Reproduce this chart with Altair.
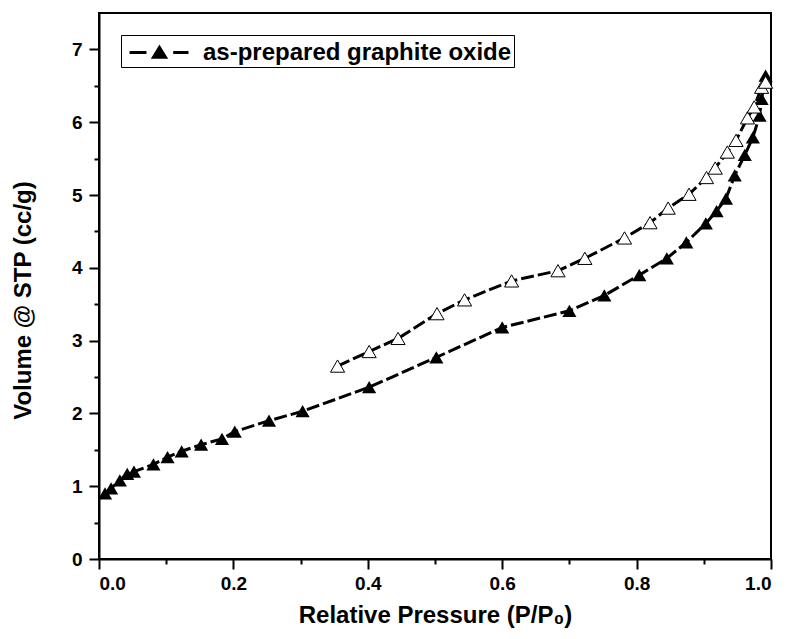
import altair as alt
import pandas as pd

# Adsorption branch (filled triangles)
ads_x = [0.009, 0.018, 0.031, 0.042, 0.052, 0.081, 0.102, 0.123, 0.152, 0.183,
         0.202, 0.253, 0.303, 0.402, 0.502, 0.600, 0.700, 0.752, 0.804, 0.845,
         0.874, 0.903, 0.919, 0.933, 0.946, 0.961, 0.973, 0.983, 0.986, 0.992]
ads_y = [0.90, 0.97, 1.08, 1.17, 1.20, 1.30, 1.40, 1.48, 1.57, 1.65,
         1.75, 1.90, 2.03, 2.36, 2.77, 3.18, 3.41, 3.62, 3.90, 4.13,
         4.35, 4.61, 4.78, 4.95, 5.27, 5.55, 5.79, 6.09, 6.32, 6.64]

# Desorption branch (open triangles)
des_x = [0.355, 0.402, 0.445, 0.503, 0.544, 0.614, 0.683, 0.723, 0.782, 0.820,
         0.847, 0.878, 0.904, 0.917, 0.935, 0.948, 0.965, 0.975, 0.986, 0.992]
des_y = [2.65, 2.85, 3.03, 3.37, 3.56, 3.82, 3.96, 4.13, 4.41, 4.62,
         4.82, 5.01, 5.24, 5.37, 5.59, 5.75, 6.06, 6.21, 6.48, 6.55]

series_label = "as-prepared graphite oxide"
x_major = [0.0, 0.2, 0.4, 0.6, 0.8, 1.0]
x_minor = [0.1, 0.3, 0.5, 0.7, 0.9]
y_major = [0, 1, 2, 3, 4, 5, 6, 7]
y_minor = [0.5, 1.5, 2.5, 3.5, 4.5, 5.5, 6.5]

ads = pd.DataFrame({"p": ads_x, "v": ads_y, "series": series_label})
des = pd.DataFrame({"p": des_x, "v": des_y})

FONT = "Liberation Sans"


def xs():
    return alt.Scale(domain=[0, 1.0], nice=False, zero=False)


def ys():
    return alt.Scale(domain=[0, 7.5], nice=False, zero=False)


x_axis = alt.Axis(values=x_major, format=".1f", orient="bottom", grid=False,
                  title="Relative Pressure (P/P\u2080)", tickSize=10, tickWidth=2,
                  domainWidth=2, domainColor="black", tickColor="black",
                  labelFontSize=19, labelFontWeight="bold", labelColor="black",
                  labelPadding=5, labelFont=FONT,
                  titleFontSize=24, titleFontWeight="bold", titleFont=FONT,
                  titleColor="black", titleY=63, titleBaseline="alphabetic")
y_axis = alt.Axis(values=y_major, format="d", orient="left", grid=False,
                  title="Volume @ STP (cc/g)", tickSize=10, tickWidth=2,
                  domainWidth=2, domainColor="black", tickColor="black",
                  labelFontSize=19, labelFontWeight="bold", labelColor="black",
                  labelPadding=7, labelFont=FONT,
                  titleFontSize=24, titleFontWeight="bold", titleFont=FONT,
                  titleColor="black", titleX=-76, titleY=287,
                  titleBaseline="middle", titleAngle=-90)

X = alt.X("p:Q", scale=xs(), axis=x_axis)
Y = alt.Y("v:Q", scale=ys(), axis=y_axis)

line_ads = alt.Chart(ads).mark_line(color="black", strokeWidth=3,
                                    strokeDash=[13, 4]).encode(X, Y, order="p:Q")
line_des = alt.Chart(des).mark_line(color="black", strokeWidth=3,
                                    strokeDash=[13, 4]).encode(X, Y, order="p:Q")

legend_path = "M-0.64,0L0.57,0M2.48,0L3.57,0M1.5,-0.36L1.93,0.34L1.07,0.34Z"

pts_ads = alt.Chart(ads).mark_point(shape="triangle-up", filled=True, size=200,
                                    opacity=1).encode(
    X, Y,
    color=alt.Color("series:N",
                    scale=alt.Scale(domain=[series_label], range=["black"]),
                    legend=alt.Legend(title=None, orient="none", legendX=22, legendY=22,
                                      symbolType=legend_path, symbolSize=784,
                                      symbolStrokeWidth=3, symbolStrokeColor="black",
                                      symbolFillColor="black", symbolOpacity=1,
                                      labelFontSize=24, labelFontWeight="bold",
                                      labelFont=FONT, labelColor="black",
                                      labelLimit=500, labelOffset=49, padding=2,
                                      strokeColor="black", fillColor="white"))
)
pts_des = alt.Chart(des).mark_point(shape="triangle-up", filled=True, size=200,
                                    fill="white", stroke="black", strokeWidth=1,
                                    opacity=1).encode(X, Y)

main = alt.layer(line_ads, line_des, pts_ads, pts_des)

minor = alt.Chart(des).mark_point(opacity=0).encode(
    x=alt.X("p:Q", scale=xs(),
            axis=alt.Axis(values=x_minor, orient="bottom", labels=False, domain=False,
                          grid=False, title=None, tickSize=5, tickWidth=2,
                          tickColor="black")),
    y=alt.Y("v:Q", scale=ys(),
            axis=alt.Axis(values=y_minor, orient="left", labels=False, domain=False,
                          grid=False, title=None, tickSize=5, tickWidth=2,
                          tickColor="black")),
)

chart = alt.layer(main, minor).resolve_scale(
    x="independent", y="independent"
).resolve_axis(x="independent", y="independent").properties(
    width=672, height=546,
    autosize=alt.AutoSizeParams(type="none"),
    padding={"left": 99, "top": 13, "right": 19, "bottom": 80},
    background="white",
).configure_view(stroke="black", strokeWidth=2)

chart.save("out.html", embed_options={"renderer": "svg", "actions": False})
